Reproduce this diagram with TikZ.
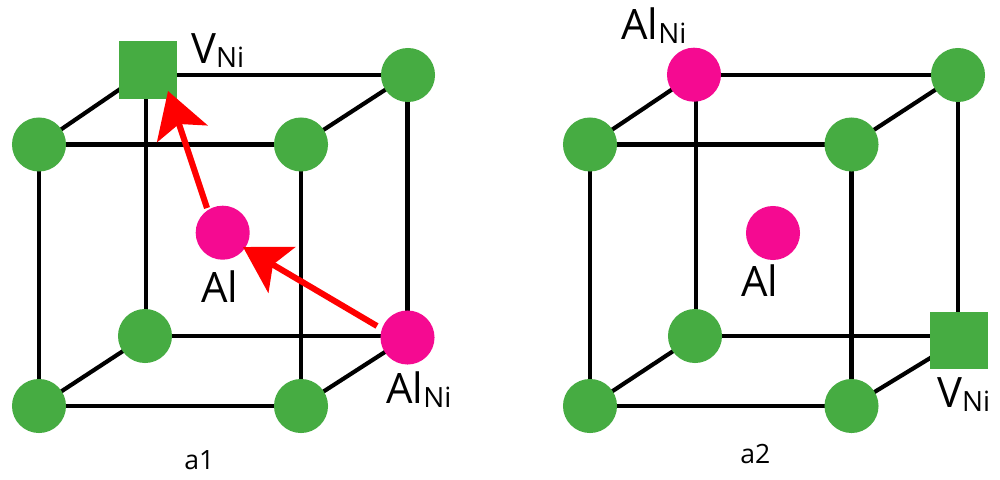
\documentclass[tikz,border=0pt]{standalone}
\usepackage{fontspec}
\setmainfont{Open Sans}
\usetikzlibrary{arrows.meta}
\definecolor{atomgreen}{HTML}{46AC42}
\definecolor{atompink}{HTML}{F50A91}
\definecolor{hopred}{HTML}{FF0000}
\newcommand{\subNi}{\raisebox{-3.75pt}{\fontsize{21pt}{21pt}\selectfont Ni}}
\tikzset{
  atomg/.style={circle,fill=atomgreen,minimum size=14.3mm,inner sep=0pt},
  atomp/.style={circle,fill=atompink,minimum size=14.3mm,inner sep=0pt},
  vac/.style={rectangle,fill=atomgreen,minimum size=15.1mm,inner sep=0pt},
  bond/.style={draw=black,line width=1.1mm},
  hop/.style={draw=hopred,line width=1.6mm,-{Stealth[length=11.9mm,width=14mm,inset=2.7mm]}},
  lab/.style={font=\fontsize{31.5pt}{31.5pt}\selectfont,inner sep=0pt,anchor=base west},
  captxt/.style={font=\fontsize{20pt}{20pt}\selectfont,inner sep=0pt,anchor=base west}
}
\begin{document}
\begin{tikzpicture}[x=0.2646mm,y=-0.2646mm]
\useasboundingbox (0,0) rectangle (1000,479);
\fill[white] (0,0) rectangle (1000,479);
\foreach \n/\x/\y in {a/39/144.5,b/301/144.5,c/39/406,d/301/406,e/146/336,f/407.5/337.5,g/148/70,h/408/75}{\coordinate (\n) at (\x,\y);}
\foreach \n/\x/\y in {A/590/144.5,B/851.5/144.5,C/590/406,D/851.5/406,E/696/336,F/959/340.5,G/694/74.7,H/958/75}{\coordinate (\n) at (\x,\y);}
\foreach \p/\q in {a/b,c/d,a/c,b/d,a/g,b/h,c/e,d/f}{\draw[bond] (\p) -- (\q);}
\draw[bond] (e) -- (e -| f);
\draw[bond] (h) -- (h -| g);
\draw[bond] (e) -- (e |- g);
\draw[bond] (f) -- (f |- h);
\foreach \p/\q in {A/B,C/D,A/C,B/D,A/G,B/H,C/E,D/F}{\draw[bond] (\p) -- (\q);}
\draw[bond] (E) -- (E -| F);
\draw[bond] (H) -- (H -| G);
\draw[bond] (E) -- (E |- G);
\draw[bond] (H) -- (H |- F);
\foreach \n/\x/\y in {a/39/144.5,b/301/144.5,c/39/406,d/301/406,e/145/336,h/408/75,A/590/144.5,B/851.5/144.5,C/590/406,D/851.5/406,E/695/336,H/958/75}{\node[atomg] (n\n) at (\x,\y) {};}
\node[vac] (ng) at (g) {};
\node[vac] (nF) at (F) {};
\node[atomp] (nf) at (f) {};
\node[atomp] (nG) at (G) {};
\node[atomp] (al1) at (222.7,232.7) {};
\node[atomp] (al2) at (773,233) {};
\coordinate (tip1) at (243,247);
\coordinate (tail1) at (377,326);
\coordinate (tip2) at (168,91);
\coordinate (tail2) at (207,208);
\draw[hop] (tail1) -- (tip1);
\draw[hop] (tail2) -- (tip2);
\node[lab] (t1) at (191,63) {V\subNi};
\node[lab] (t2) at (201,302) {Al};
\node[lab] (t3) at (386,403) {Al\subNi};
\node[lab] (t4) at (621,39) {Al\subNi};
\node[lab] (t5) at (741,296) {Al};
\node[lab] (t6) at (937,407) {V\subNi};
\node[captxt] (c1) at (184,469) {a1};
\node[captxt] (c2) at (740,463) {a2};
\end{tikzpicture}
\end{document}
